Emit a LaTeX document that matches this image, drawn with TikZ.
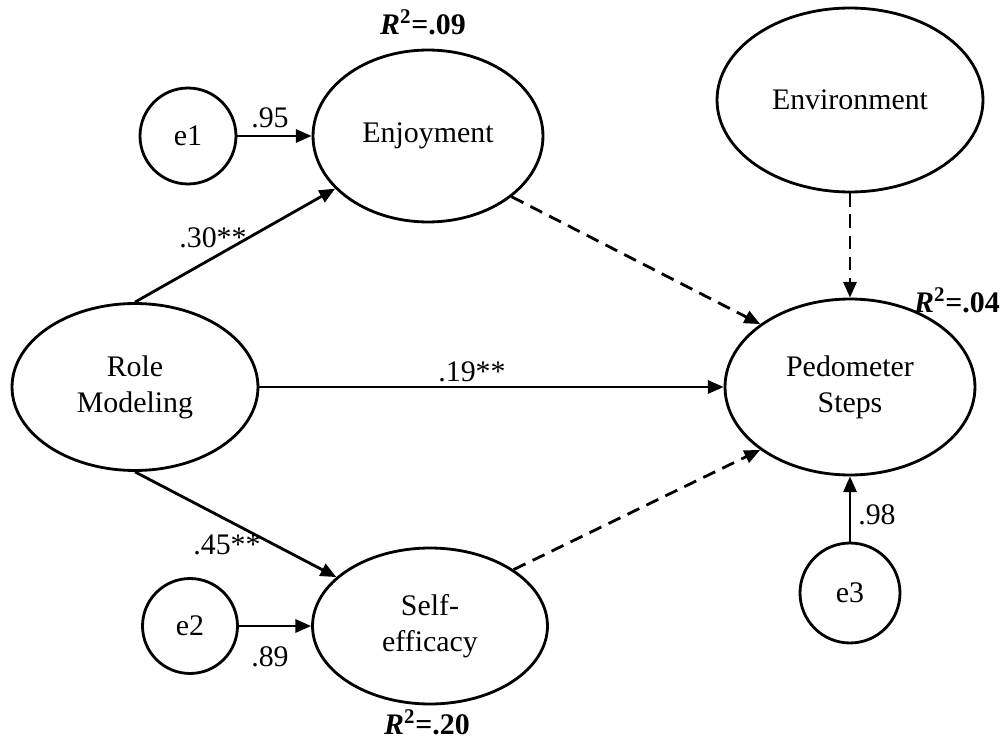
\documentclass[tikz,border=0pt]{standalone}
\usepackage{fontspec}
\setmainfont{Liberation Serif}
\usetikzlibrary{arrows.meta,shapes.geometric}

\begin{document}
\begin{tikzpicture}[x=0.02cm, y=-0.02cm, >={Triangle[length=9pt,width=7.5pt]},
        latent/.style={ellipse, draw, line width=1.6pt, inner sep=0pt, align=center, font=\fontsize{17}{20.5}\selectfont},
        resid/.style={circle, draw, line width=1.6pt, inner sep=0pt, font=\fontsize{17}{20.5}\selectfont},
        effect/.style={line width=1.6pt, ->},
        nseffect/.style={effect, dash pattern={on 7.5pt off 4.5pt}},
        coef/.style={font=\fontsize{17}{20.5}\selectfont},
        rsq/.style={font=\fontsize{17}{20.5}\selectfont\bfseries}]
        \useasboundingbox (0,0) rectangle (1005,740);

        % Latent variables
        \node[latent, minimum width=4.92cm, minimum height=3.34cm] (RM) at (135,387) {Role\\Modeling};
        \node[latent, minimum width=4.6cm, minimum height=3.44cm] (EJ) at (428,136) {Enjoyment};
        \node[latent, minimum width=4.7cm, minimum height=3.12cm] (SE) at (430,626) {Self-\\efficacy};
        \node[latent, minimum width=5.32cm, minimum height=3.68cm] (EV) at (850,100) {Environment};
        \node[latent, minimum width=5cm, minimum height=3.52cm] (PS) at (850,387) {Pedometer\\Steps};

        % Residuals
        \node[resid, minimum size=1.92cm] (E1) at (188,136) {e1};
        \node[resid, minimum size=1.9cm] (E2) at (190,626) {e2};
        \node[resid, minimum size=2cm] (E3) at (850,593) {e3};

        % Paths
        \draw[effect] (E1) -- (EJ);
        \draw[effect] (E2) -- (SE);
        \draw[effect] (E3) -- (PS);
        \draw[effect] (RM.north) -- (EJ);
        \draw[effect] (RM.south) -- (SE);
        \draw[effect] (RM) -- (PS);
        \draw[nseffect] (EJ.-36) -- (PS.145);
        \draw[nseffect] (SE.34) -- (PS.215);
        \draw[nseffect] (EV) -- (PS);

        % Coefficients
        \node[coef] (c95) at (270,118) {.95};
        \node[coef] (c89) at (270,657) {.89};
        \node[coef] (c98) at (877,515) {.98};
        \node[coef] (c30) at (213,238) {.30**};
        \node[coef] (c19) at (472,372) {.19**};
        \node[coef] (c45) at (227,545) {.45**};

        % Explained variance
        \node[rsq] (rEJ) at (423,22) {\textit{R}\textsuperscript{2}=.09};
        \node[rsq] (rSE) at (427,722) {\textit{R}\textsuperscript{2}=.20};
        \node[rsq] (rPS) at (957,300) {\textit{R}\textsuperscript{2}=.04};

    \end{tikzpicture}
\end{document}
